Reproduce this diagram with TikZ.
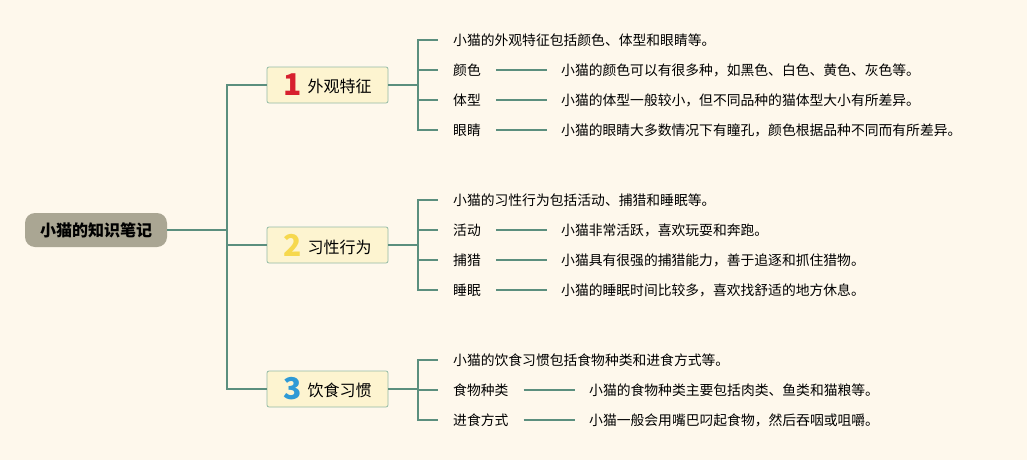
\documentclass[tikz,border=0pt]{standalone}
\usepackage{fontspec}
\setmainfont{Noto Sans CJK SC}
\usepackage{tikz}
\usetikzlibrary{positioning,calc}
\definecolor{bgcol}{HTML}{FEF8EC}
\definecolor{linecol}{HTML}{5B8F7E}
\definecolor{rootcol}{HTML}{AAA693}
\definecolor{boxcol}{HTML}{FDF4D0}
\definecolor{boxline}{HTML}{93BBA6}
\definecolor{onecol}{HTML}{D7202E}
\definecolor{twocol}{HTML}{F6D84E}
\definecolor{threecol}{HTML}{2E9AD6}
\newcommand{\bignum}[2]{\raisebox{-3pt}{\textcolor{#1}{\fontsize{30}{30}\selectfont\bfseries #2}}\hspace{6pt}}
\tikzset{
  root/.style={fill=rootcol,rounded corners=10pt,minimum width=142pt,minimum height=34pt,font=\fontsize{16}{18}\selectfont\bfseries},
  topic/.style={fill=boxcol,draw=boxline,line width=0.8pt,rounded corners=2pt,minimum width=121pt,minimum height=36pt,inner sep=0pt,font=\fontsize{16}{18}\selectfont},
  item/.style={anchor=west,inner xsep=15pt,inner ysep=2pt,font=\fontsize{13.8}{16}\selectfont},
  desc/.style={anchor=west,inner xsep=14pt,inner ysep=2pt,font=\fontsize{13.8}{16}\selectfont},
  conn/.style={draw=linecol,line width=2pt}
}
\begin{document}
\begin{tikzpicture}[x=1pt,y=-1pt]
\fill[bgcol] (0,0) rectangle (1027,460);
\useasboundingbox (0,0) rectangle (1027,460);

\node[root] (cat) at (96,230) {小猫的知识笔记};
\coordinate (j0) at (227,230);

\node[topic] (looks) at (327.5,85) {\bignum{onecol}{1}外观特征};
\node[topic] (habit) at (327.5,245) {\bignum{twocol}{2}习性行为};
\node[topic] (food) at (327.5,389) {\bignum{threecol}{3}饮食习惯};
\coordinate (j1) at (418,85);
\coordinate (j2) at (418,245);
\coordinate (j3) at (418,389);

\node[item] (l10) at (438,40) {小猫的外观特征包括颜色、体型和眼睛等。};
\node[item] (l11) at (438,70) {颜色};
\node[item] (l12) at (438,100) {体型};
\node[item] (l13) at (438,130) {眼睛};
\node[desc] (d11) at (547,70) {小猫的颜色可以有很多种，如黑色、白色、黄色、灰色等。};
\node[desc] (d12) at (547,100) {小猫的体型一般较小，但不同品种的猫体型大小有所差异。};
\node[desc] (d13) at (547,130) {小猫的眼睛大多数情况下有瞳孔，颜色根据品种不同而有所差异。};

\node[item] (l20) at (438,200) {小猫的习性行为包括活动、捕猎和睡眠等。};
\node[item] (l21) at (438,230) {活动};
\node[item] (l22) at (438,260) {捕猎};
\node[item] (l23) at (438,290) {睡眠};
\node[desc] (d21) at (547,230) {小猫非常活跃，喜欢玩耍和奔跑。};
\node[desc] (d22) at (547,260) {小猫具有很强的捕猎能力，善于追逐和抓住猎物。};
\node[desc] (d23) at (547,290) {小猫的睡眠时间比较多，喜欢找舒适的地方休息。};

\node[item] (l30) at (438,360) {小猫的饮食习惯包括食物种类和进食方式等。};
\node[item] (l31) at (438,390) {食物种类};
\node[item] (l32) at (438,420) {进食方式};
\node[desc] (d31) at (575,390) {小猫的食物种类主要包括肉类、鱼类和猫粮等。};
\node[desc] (d32) at (575,420) {小猫一般会用嘴巴叼起食物，然后吞咽或咀嚼。};

\draw[conn] (cat) -- (j0);
\draw[conn] (j0) |- (looks);
\draw[conn] (j0) |- (habit);
\draw[conn] (j0) |- (food);
\draw[conn] (looks) -- (j1);
\draw[conn] (habit) -- (j2);
\draw[conn] (food) -- (j3);
\foreach \i in {0,1,2,3} {
  \draw[conn] (j1) |- (l1\i.west);
  \draw[conn] (j2) |- (l2\i.west);
}
\foreach \i in {0,1,2} {
  \draw[conn] (j3) |- (l3\i.west);
}
\foreach \i in {1,2,3} {
  \draw[conn] (l1\i) -- (d1\i);
  \draw[conn] (l2\i) -- (d2\i);
}
\draw[conn] (l31) -- (d31);
\draw[conn] (l32) -- (d32);
\end{tikzpicture}
\end{document}
